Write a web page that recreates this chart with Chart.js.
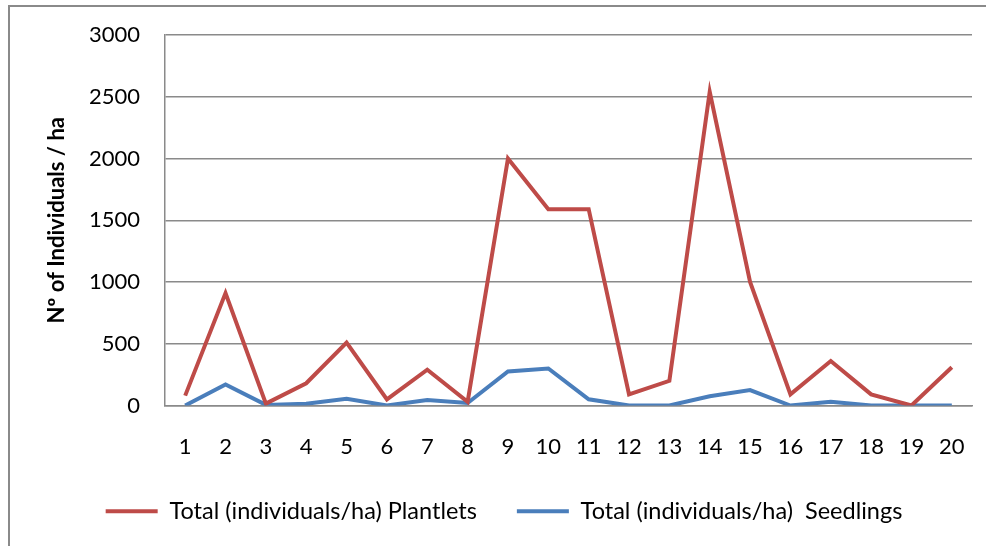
<!DOCTYPE html>
<html>
<head>
<meta charset="utf-8">
<script src="https://cdn.jsdelivr.net/npm/chart.js@4"></script>
<style>
  html, body { margin: 0; padding: 0; background: #fff; }
  #wrap { position: relative; width: 986px; height: 546px; overflow: hidden; }
  #frame { position: absolute; left: 8px; top: 5px; width: 1000px; height: 600px;
           border-left: 2px solid #8a8a8a; border-top: 2px solid #8a8a8a; }
  #chart { position: absolute; left: 0; top: 0; }
</style>
</head>
<body>
<div id="wrap">
  <div id="frame"></div>
  <canvas id="chart" width="986" height="546"></canvas>
</div>
<script>
// plots 1..20
var plots = ['1','2','3','4','5','6','7','8','9','10','11','12','13','14','15','16','17','18','19','20'];
var plantlets = [80, 910, 15, 180, 510, 50, 290, 30, 2000, 1590, 1590, 90, 200, 2540, 1000, 90, 360, 90, 0, 310];
var seedlings = [0, 170, 5, 15, 55, 0, 45, 20, 275, 300, 50, 0, 0, 75, 125, 0, 30, 0, 0, 0];
var yTicks = [0, 500, 1000, 1500, 2000, 2500, 3000];

var FONT = 'Lato, "Liberation Sans", sans-serif';

var ctx = document.getElementById('chart').getContext('2d');
var chart = new Chart(ctx, {
    type: 'line',
    data: {
        labels: plots,
        datasets: [{
            label: 'Total (individuals/ha) Plantlets',
            data: plantlets,
            borderColor: '#BE4B48',
            backgroundColor: '#BE4B48',
            borderWidth: 4,
            pointRadius: 0,
            tension: 0,
            fill: false
        }, {
            label: 'Total (individuals/ha)  Seedlings',
            data: seedlings,
            borderColor: '#4A7EBB',
            backgroundColor: '#4A7EBB',
            borderWidth: 4,
            pointRadius: 0,
            tension: 0,
            fill: false
        }]
    },
    options: {
        responsive: false,
        animation: false,
        layout: { padding: { left: 36, top: 35, right: 14, bottom: 13 } },
        plugins: {
            tooltip: { enabled: false },
            legend: {
                position: 'bottom',
                labels: {
                    usePointStyle: true,
                    pointStyle: 'line',
                    pointStyleWidth: 52,
                    padding: 40,
                    color: '#000',
                    font: { family: FONT, size: 23.5 }
                }
            }
        },
        scales: {
            x: {
                offset: true,
                grid: { display: true, drawOnChartArea: false, drawTicks: true, tickLength: 25,
                        color: 'transparent', tickColor: 'transparent' },
                border: { color: '#8a8a8a', width: 1.5 },
                ticks: { color: '#000', padding: 3, maxRotation: 0, autoSkip: false,
                         font: { family: FONT, size: 22 } },
                afterFit: function (s) { s.height = 54; }
            },
            y: {
                min: 0,
                max: 3000,
                afterBuildTicks: function (s) { s.ticks = yTicks.map(function (v) { return { value: v }; }); },
                grid: { color: '#8a8a8a', lineWidth: 1.5, drawTicks: true, tickLength: 22,
                        tickColor: 'transparent' },
                border: { color: '#8a8a8a', width: 1.5 },
                ticks: {
                    color: '#000', padding: 3, font: { family: FONT, size: 22 },
                    callback: function (v) { return String(v); }
                },
                title: {
                    display: true,
                    text: 'Nº of Individuals / ha',
                    color: '#000',
                    padding: { top: 8, bottom: 0 },
                    font: { family: FONT, size: 22, weight: 'bold' }
                },
                afterFit: function (s) { s.width = 129; }
            }
        }
    }
});
</script>
</body>
</html>
